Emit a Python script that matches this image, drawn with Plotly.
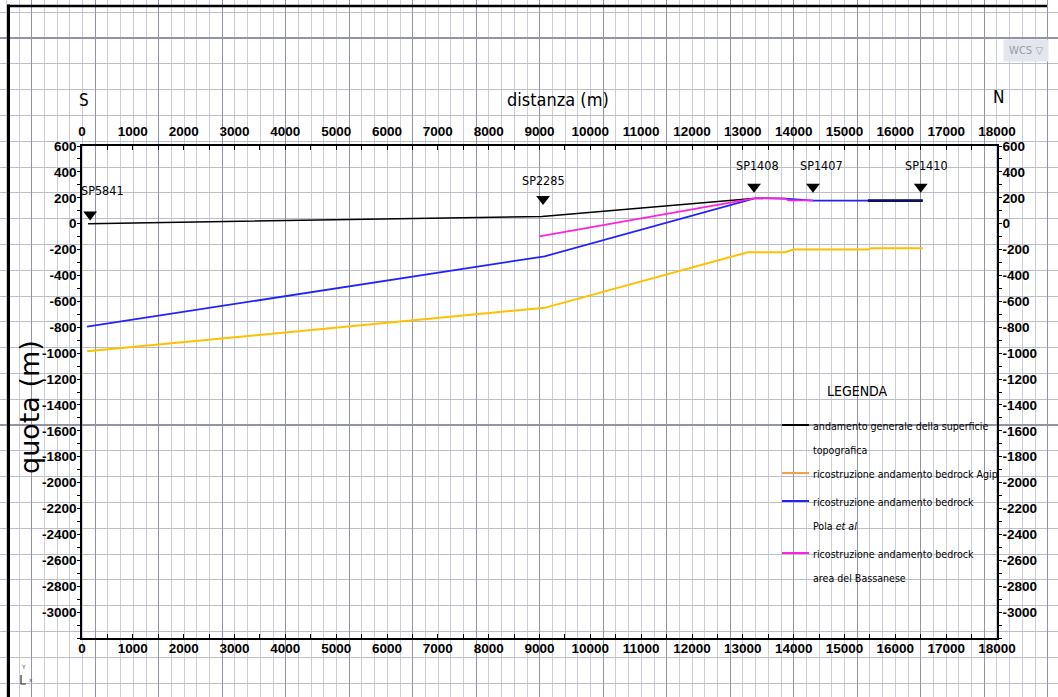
import plotly.graph_objects as go

W, H = 1058, 697

topo_x = [120, 9050, 13200]
topo_y = [0, 56, 195]
topo2_x = [15460, 16540]
topo2_y = [178, 178]

agip_x = [100, 9100, 13100, 13830, 14000, 15460, 15520, 16540]
agip_y = [-985, -650, -220, -220, -200, -200, -190, -190]

pola_x = [100, 9100, 13250, 13830, 14380, 16540]
pola_y = [-795, -252, 198, 193, 178, 178]

bass_x = [9000, 13250, 13830, 13900, 14380]
bass_y = [-98, 198, 193, 180, 180]

# pozzi / sondaggi
sp_nomi = ['SP5841', 'SP2285', 'SP1408', 'SP1407', 'SP1410']
sp_x = [160, 9070, 13220, 14380, 16500]
sp_y = [70, 190, 285, 285, 285]

x_ticks = list(range(0, 18001, 1000))
y_ticks = list(range(600, -3001, -200))

legenda_testi = [
    ['andamento generale della superficie', 'topografica'],
    ['ricostruzione andamento bedrock Agip'],
    ['ricostruzione andamento bedrock', 'Pola <i>et al</i>'],
    ['ricostruzione andamento bedrock', 'area del Bassanese'],
]
legenda_colori = ['black', '#f0a050', '#2222ff', '#ff22dd']


# coordinate pagina (pixel -> frazione del foglio)
def px(x):
    return x / W


def py(y):
    return 1 - y / H


narrow = 'DejaVu Sans Condensed, Liberation Sans Narrow, sans-serif'
tick_font = dict(family='Liberation Sans, Arial, sans-serif', size=13.5,
                 color='black', weight='bold')

fig = go.Figure()

# griglia del CAD (asse di sfondo a tutto foglio)
fig.add_trace(go.Scatter(x=[None], y=[None], xaxis='x', yaxis='y',
                         showlegend=False, hoverinfo='skip'))

fig.add_trace(go.Scatter(x=agip_x, y=agip_y, mode='lines', xaxis='x2', yaxis='y2',
                         line=dict(color='#ffc000', width=2), showlegend=False))
fig.add_trace(go.Scatter(x=topo_x, y=topo_y, mode='lines', xaxis='x2', yaxis='y2',
                         line=dict(color='black', width=1.6), showlegend=False))
fig.add_trace(go.Scatter(x=pola_x, y=pola_y, mode='lines', xaxis='x2', yaxis='y2',
                         line=dict(color='#2222ff', width=1.8), showlegend=False))
fig.add_trace(go.Scatter(x=bass_x, y=bass_y, mode='lines', xaxis='x2', yaxis='y2',
                         line=dict(color='#ff22dd', width=1.8), showlegend=False))
fig.add_trace(go.Scatter(x=topo2_x, y=topo2_y, mode='lines', xaxis='x2', yaxis='y2',
                         line=dict(color='#101060', width=2.6), showlegend=False))
fig.add_trace(go.Scatter(x=sp_x, y=sp_y, mode='markers', xaxis='x2', yaxis='y2',
                         marker=dict(symbol='triangle-down', size=12, color='black',
                                     line=dict(color='black', width=0)),
                         showlegend=False))

# tracce vuote per gli assi in alto e a destra
fig.add_trace(go.Scatter(x=[None], y=[None], xaxis='x3', yaxis='y2', showlegend=False))
fig.add_trace(go.Scatter(x=[None], y=[None], xaxis='x2', yaxis='y3', showlegend=False))

x_common = dict(range=[0, 18000], tickmode='array', tickvals=x_ticks,
                ticktext=[str(v) for v in x_ticks], showline=True, linecolor='black',
                linewidth=1.5, ticks='inside', ticklen=4, tickcolor='black',
                minor=dict(dtick=500, ticks='inside', ticklen=4, tickcolor='black'),
                showgrid=False, zeroline=False, tickfont=tick_font, fixedrange=True,
                automargin=False)
y_common = dict(range=[-3200, 600], tickmode='array', tickvals=y_ticks,
                ticktext=[str(v) for v in y_ticks], showline=True, linecolor='black',
                linewidth=1.5, ticks='outside', ticklen=3, tickcolor='black',
                minor=dict(dtick=100, ticks='outside', ticklen=3, tickcolor='black'),
                showgrid=False, zeroline=False, tickfont=tick_font, fixedrange=True,
                automargin=False)

fig.update_layout(
    autosize=True,
    margin=dict(l=0, r=0, t=0, b=0, pad=0, autoexpand=False),
    paper_bgcolor='white',
    plot_bgcolor='rgba(0,0,0,0)',
    showlegend=False,
    xaxis=dict(domain=[0, 1], range=[0, W], showticklabels=False, ticks='',
               zeroline=False, showline=False, fixedrange=True, automargin=False,
               tick0=31.7, dtick=63.5, showgrid=True, gridcolor='#9393a6', gridwidth=1,
               minor=dict(tick0=19, dtick=12.7, showgrid=True,
                          gridcolor='#cdcdd8', gridwidth=1)),
    yaxis=dict(domain=[0, 1], range=[H, 0], showticklabels=False, ticks='',
               zeroline=False, showline=False, fixedrange=True, automargin=False,
               tick0=38, dtick=387, showgrid=True, gridcolor='#9393a6', gridwidth=1.6,
               minor=dict(tick0=12.2, dtick=25.8, showgrid=True,
                          gridcolor='#bdbdc9', gridwidth=1.4)),
    xaxis2=dict(domain=[px(82), px(997)], anchor='y2', side='bottom',
                ticklabelstandoff=-3, **x_common),
    xaxis3=dict(overlaying='x2', anchor='y2', side='top',
                ticklabelstandoff=3, **x_common),
    yaxis2=dict(domain=[py(638), py(146)], anchor='x2', side='left',
                ticklabelstandoff=-2, **y_common),
    yaxis3=dict(overlaying='y2', anchor='x2', side='right',
                ticklabelstandoff=-2, **y_common),
)


def testo(x, y, t, size, family=narrow, **kw):
    fig.add_annotation(x=px(x), y=py(y), xref='paper', yref='paper', text=t,
                       showarrow=False, xanchor=kw.pop('xanchor', 'center'),
                       yanchor='middle', font=dict(family=family, size=size,
                                                   color=kw.pop('color', 'black')), **kw)


# etichette dei sondaggi
sp_dx = [12, 0, 3, 9, 6]
sp_dy = [24, 19, 21, 21, 21]
for nome, xx, yy, dx, dy in zip(sp_nomi, sp_x, sp_y, sp_dx, sp_dy):
    fig.add_annotation(x=xx, y=yy, xref='x2', yref='y2', text=nome, showarrow=False,
                       xanchor='center', yanchor='middle', xshift=dx, yshift=dy,
                       font=dict(family=narrow, size=12.5, color='black'))

# titoli
testo(558, 99, 'distanza (m)', 18)
testo(84, 100, 'S', 17)
testo(998, 97, 'N', 17)
testo(29, 407, 'quota (m)', 27, family='DejaVu Sans, sans-serif', textangle=-90)

# legenda
testo(857, 391, 'LEGENDA', 14)
leg_y = [425, 473, 501, 553]
for righe, col, yy in zip(legenda_testi, legenda_colori, leg_y):
    fig.add_shape(type='line', xref='paper', yref='paper', x0=px(782), x1=px(809),
                  y0=py(yy), y1=py(yy), line=dict(color=col, width=2))
    for i, riga in enumerate(righe):
        testo(811, yy + 1 + 24 * i, riga, 10.6, xanchor='left')

# cornice del disegno
fig.add_shape(type='line', xref='paper', yref='paper', x0=px(8.5), x1=px(8.5),
              y0=py(4.5), y1=py(H), line=dict(color='black', width=3))
fig.add_shape(type='line', xref='paper', yref='paper', x0=px(7), x1=px(1047),
              y0=py(6), y1=py(6), line=dict(color='black', width=2.5))

# pulsante WCS e icona UCS
testo(1026, 51, 'WCS ▽', 10, family='DejaVu Sans, sans-serif', color='#9a9aaa',
      bgcolor='#e4e6ee', borderpad=5)
testo(23, 666, 'Y', 6, family='DejaVu Sans', color='#555')
testo(31, 679, 'x', 6, family='DejaVu Sans', color='#555')
fig.add_shape(type='path', xref='paper', yref='paper',
              path=f'M {px(21)},{py(675)} L {px(21)},{py(684)} L {px(26)},{py(684)}',
              line=dict(color='#333', width=1.2))

# la figura riempie esattamente la finestra
fit = ("document.documentElement.style.overflow='hidden';"
       "document.body.style.margin='0';document.body.style.overflow='hidden';"
       "var gd=document.getElementById('{plot_id}');"
       "gd.style.width='100vw';gd.style.height='100vh';Plotly.Plots.resize(gd);")

fig.write_html("out.html", default_width='100vw', default_height='100vh',
               config={'displayModeBar': False}, post_script=fit)
